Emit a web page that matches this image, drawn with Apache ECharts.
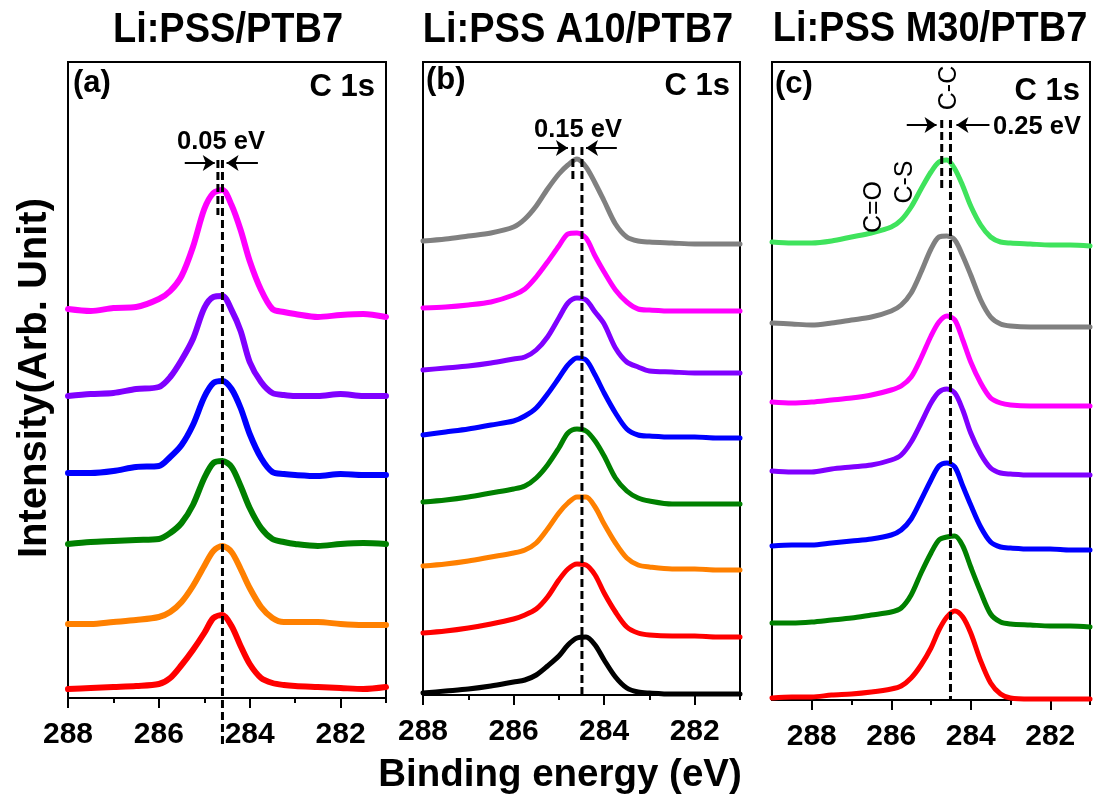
<!DOCTYPE html>
<html>
<head>
<meta charset="utf-8">
<script src="https://cdn.jsdelivr.net/npm/echarts@6/dist/echarts.min.js"></script>
<style>
  html, body { margin: 0; background: #fff }
  #main { width: 1097px; height: 799px }
</style>
</head>
<body>
<div id="main"></div>
<script>
// binding energies (eV) sampled along each spectrum
var energyAB = [288, 287.5, 287, 286.5, 286, 285.75, 285.5, 285.25, 285, 284.8, 284.6, 284.4, 284.2, 284, 283.75, 283.5, 283.25, 283, 282.5, 282, 281.5, 281]
var energyC = [289, 288.5, 288, 287.5, 287, 286.5, 286, 285.75, 285.5, 285.25, 285, 284.8, 284.6, 284.4, 284.2, 284, 283.75, 283.5, 283.25, 283, 282.5, 282, 281.5, 281]

// (a) Li:PSS/PTB7, stacked intensities (arb. unit), top to bottom
var aMagenta = [389, 387, 390, 391, 399, 407, 422, 451, 489, 505, 508, 493, 468, 437, 408, 389, 386, 384, 381, 383, 384, 381]
var aPurple = [302, 304, 305, 309, 311, 321, 338, 359, 390, 401, 402, 388, 367, 336, 316, 305, 303, 302, 302, 304, 302, 302]
var aBlue = [225, 225, 227, 231, 232, 241, 253, 273, 301, 315, 317, 309, 290, 264, 240, 226, 224, 223, 222, 224, 223, 223]
var aGreen = [154, 156, 157, 158, 159, 165, 175, 193, 220, 235, 237, 231, 212, 190, 170, 159, 156, 154, 152, 154, 155, 154]
var aOrange = [74, 74, 76, 78, 81, 86, 96, 112, 132, 147, 152, 146, 129, 110, 91, 80, 76, 76, 76, 74, 73, 73]
var aRed = [9, 10, 11, 12, 14, 20, 33, 48, 65, 80, 83, 72, 52, 34, 20, 15, 13, 12, 11, 10, 9, 11]

// (b) Li:PSS A10/PTB7
var bGray = [454, 456, 459, 462, 468, 476, 489, 506, 521, 530, 536, 528, 512, 494, 471, 458, 454, 453, 452, 451, 451, 451]
var bMagenta = [387, 388, 390, 393, 400, 406, 418, 433, 449, 461, 462, 457, 439, 423, 405, 393, 386, 385, 384, 384, 384, 384]
var bPurple = [325, 327, 329, 332, 336, 338, 345, 358, 377, 392, 397, 395, 383, 371, 347, 333, 328, 324, 323, 322, 322, 322]
var bBlue = [260, 263, 266, 270, 274, 279, 287, 301, 317, 330, 337, 335, 320, 302, 282, 266, 260, 259, 258, 258, 257, 257]
var bGreen = [193, 195, 198, 202, 206, 209, 217, 230, 247, 262, 266, 264, 254, 239, 217, 204, 197, 194, 191, 191, 191, 191]
var bOrange = [129, 131, 134, 138, 142, 145, 152, 166, 182, 192, 198, 198, 188, 171, 152, 137, 130, 128, 126, 126, 125, 125]
var bRed = [62, 64, 67, 71, 76, 80, 86, 98, 115, 126, 131, 130, 120, 102, 83, 68, 62, 60, 59, 59, 58, 58]
var bBlack = [2, 4, 6, 9, 13, 15, 20, 29, 39, 50, 57, 58, 50, 35, 18, 7, 3, 2, 1, 1, 1, 1]

// (c) Li:PSS M30/PTB7
var cLime = [458, 457, 457, 459, 463, 467, 473, 480, 493, 511, 528, 538, 540, 531, 514, 494, 475, 463, 458, 457, 456, 455, 455, 454]
var cGray = [377, 376, 375, 377, 380, 383, 389, 395, 407, 428, 451, 463, 464, 460, 444, 425, 400, 383, 376, 374, 373, 373, 373, 373]
var cMagenta = [298, 297, 298, 300, 302, 305, 310, 314, 323, 342, 364, 378, 384, 380, 360, 338, 317, 302, 297, 295, 294, 294, 294, 294]
var cPurple = [229, 228, 228, 231, 233, 235, 240, 245, 258, 277, 297, 308, 311, 307, 290, 267, 246, 232, 227, 226, 225, 225, 225, 225]
var cBlue = [154, 155, 155, 157, 159, 161, 165, 170, 181, 200, 220, 234, 237, 233, 214, 195, 173, 158, 153, 152, 151, 151, 150, 150]
var cGreen = [77, 77, 78, 80, 82, 85, 88, 92, 105, 127, 147, 160, 163, 164, 154, 133, 108, 86, 78, 76, 75, 74, 74, 73]
var cRed = [2, 3, 3, 5, 6, 8, 11, 14, 22, 35, 52, 70, 83, 89, 83, 67, 39, 17, 6, 2, 1, 1, 1, 1]

// x ticks
var majorTicks = [282, 284, 286, 288]
var minorTicks = [281, 283, 285, 287]

// peak guide lines: [energy, from, to] and shift arrows: [fromE, toE, level]
var guidesA = [[284.7, 538, 483], [284.6, 538, -47]]
var guidesB = [[284.69, 548, 512], [284.49, 548, 0]]
var guidesC = [[284.73, 580, 512], [284.51, 580, 0]]
var arrowsA = [[285.43, 284.77, 535], [283.82, 284.51, 535]]
var arrowsB = [[285.46, 284.8, 547], [283.72, 284.4, 547]]
var arrowsC = [[285.61, 284.86, 575], [283.53, 284.36, 575]]

;(function () {
  var FONT = "'Liberation Sans', Arial, sans-serif"
  var chart = echarts.init(document.getElementById('main'))

  var panels = [
    {
      grid: {left: 68, top: 62, width: 318, height: 636},
      xMax: 288, yMax: 636, lineWidth: 6, energy: energyAB,
      curves: [[aMagenta, '#ff00ff'], [aPurple, '#8000ff'], [aBlue, '#0000ff'],
               [aGreen, '#008000'], [aOrange, '#ff8000'], [aRed, '#ff0000']],
      guides: guidesA, arrows: arrowsA
    },
    {
      grid: {left: 423, top: 62, width: 317, height: 633},
      xMax: 288, yMax: 633, lineWidth: 5, energy: energyAB,
      curves: [[bGray, '#808080'], [bMagenta, '#ff00ff'], [bPurple, '#8000ff'], [bBlue, '#0000ff'],
               [bGreen, '#008000'], [bOrange, '#ff8000'], [bRed, '#ff0000'], [bBlack, '#000000']],
      guides: guidesB, arrows: arrowsB
    },
    {
      grid: {left: 772, top: 62, width: 318, height: 638},
      xMax: 289, yMax: 638, lineWidth: 5, energy: energyC,
      curves: [[cLime, '#3fe35c'], [cGray, '#808080'], [cMagenta, '#ff00ff'], [cPurple, '#8000ff'],
               [cBlue, '#0000ff'], [cGreen, '#008000'], [cRed, '#ff0000']],
      guides: guidesC, arrows: arrowsC
    }
  ]

  var grids = [], xAxes = [], yAxes = [], series = []

  panels.forEach(function (p, i) {
    grids.push(Object.assign({show: true, borderColor: '#000', borderWidth: 2, backgroundColor: '#fff'}, p.grid))
    xAxes.push({
      gridIndex: i, type: 'value', min: 281, max: p.xMax, inverse: true, position: 'bottom',
      axisLine: {show: true, onZero: false, lineStyle: {color: '#000', width: 2}},
      axisTick: {show: true, length: 10, customValues: majorTicks, lineStyle: {color: '#000', width: 2}},
      axisLabel: {customValues: majorTicks, margin: 22, color: '#000', fontSize: 30, fontWeight: 'bold', fontFamily: FONT},
      splitLine: {show: false}
    })
    xAxes.push({
      gridIndex: i, type: 'value', min: 281, max: p.xMax, inverse: true, position: 'bottom',
      axisLine: {show: false},
      axisTick: {show: true, length: 5, customValues: minorTicks, lineStyle: {color: '#000', width: 2}},
      axisLabel: {show: false},
      splitLine: {show: false}
    })
    yAxes.push({gridIndex: i, type: 'value', min: 0, max: p.yMax, show: false})

    p.curves.forEach(function (c) {
      series.push({
        type: 'line', xAxisIndex: i * 2, yAxisIndex: i,
        data: p.energy.map(function (e, k) { return [e, c[0][k]] }),
        smooth: 0.3, showSymbol: false, silent: true, z: 3,
        lineStyle: {color: c[1], width: p.lineWidth, join: 'round', cap: 'round'}
      })
    })

    p.guides.forEach(function (g, k) {
      var s = {
        type: 'line', xAxisIndex: i * 2, yAxisIndex: i,
        data: [[g[0], g[1]], [g[0], g[2]]],
        showSymbol: false, silent: true, clip: false, z: 5,
        lineStyle: {color: '#000', width: 3, type: [8, 4]}
      }
      if (k === 1) {
        s.markLine = {
          silent: true, symbol: ['none', 'arrow'], symbolSize: 12,
          label: {show: false},
          lineStyle: {color: '#000', width: 2, type: 'solid'},
          data: p.arrows.map(function (a) {
            return [{coord: [a[0], a[2]]}, {coord: [a[1], a[2]]}]
          })
        }
      }
      series.push(s)
    })
  })

  function txt(x, y, text, size, opt) {
    opt = opt || {}
    return {
      type: 'text', x: x, y: y, rotation: opt.rot || 0, scaleY: opt.sy || 1, z: 10,
      style: {
        text: text, fill: '#000',
        font: (opt.normal ? 'normal ' : 'bold ') + size + 'px ' + FONT,
        textAlign: opt.align || 'center', align: opt.align || 'center',
        textVerticalAlign: 'middle', verticalAlign: 'middle'
      }
    }
  }

  var option = {
    animation: false,
    backgroundColor: '#fff',
    grid: grids,
    xAxis: xAxes,
    yAxis: yAxes,
    series: series,
    graphic: [
      txt(228, 30, 'Li:PSS/PTB7', 38, {sy: 1.1}),
      txt(578, 30, 'Li:PSS A10/PTB7', 38, {sy: 1.1}),
      txt(930, 29, 'Li:PSS M30/PTB7', 38, {sy: 1.1}),
      txt(73, 83, '(a)', 31, {align: 'left'}),
      txt(375, 87, 'C 1s', 31, {align: 'right'}),
      txt(426, 80, '(b)', 31, {align: 'left'}),
      txt(730, 86, 'C 1s', 31, {align: 'right'}),
      txt(775, 84, '(c)', 31, {align: 'left'}),
      txt(1080, 91, 'C 1s', 31, {align: 'right'}),
      txt(221, 142, '0.05 eV', 25.5),
      txt(578, 130, '0.15 eV', 25.5),
      txt(993, 127, '0.25 eV', 25.5, {align: 'left'}),
      txt(949, 88, 'C-C', 25, {rot: Math.PI / 2, normal: true}),
      txt(874, 207, 'C=O', 25, {rot: Math.PI / 2, normal: true}),
      txt(905, 182, 'C-S', 25, {rot: Math.PI / 2, normal: true}),
      txt(35, 378, 'Intensity(Arb. Unit)', 40, {rot: Math.PI / 2}),
      txt(560, 775, 'Binding energy (eV)', 38.5)
    ]
  }
  chart.setOption(option)
})()
</script>
</body>
</html>
